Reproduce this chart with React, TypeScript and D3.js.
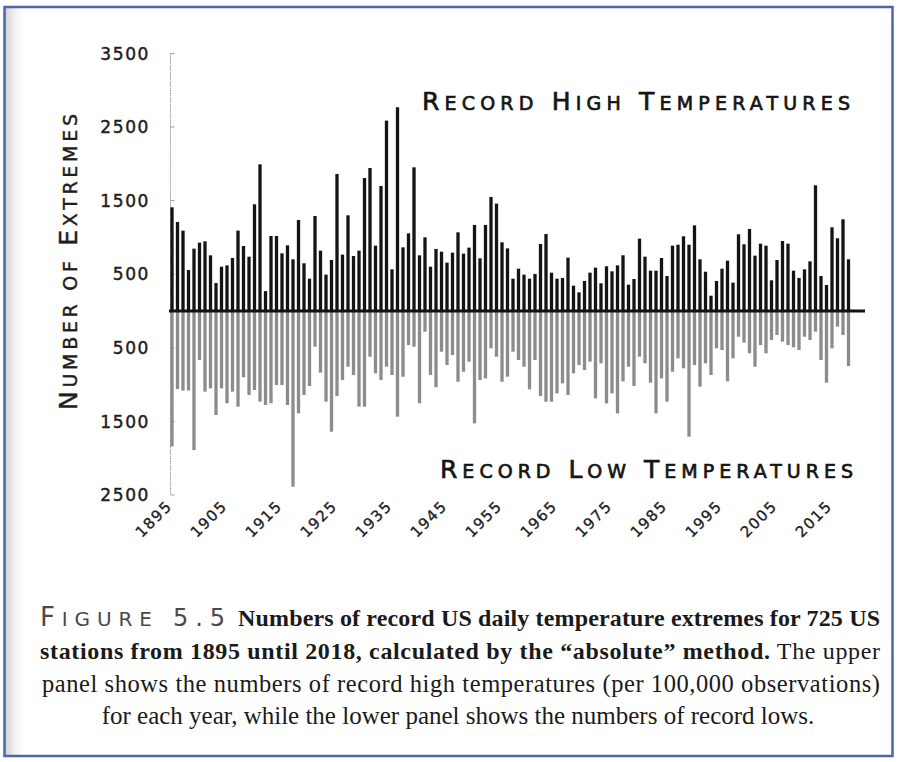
import React from "react";
import * as d3 from "d3";

const years: number[] = d3.range(1895, 2019);

const recordHighs: number[] = [
  1409, 1210, 1092, 557, 847, 929, 947, 756, 380, 602,
  620, 720, 1092, 883, 738, 1450, 1993, 270, 1019, 1019,
  784, 892, 702, 1237, 648, 439, 1291, 820, 494, 693,
  1862, 766, 1300, 747, 820, 1807, 1943, 888, 1699, 2587,
  566, 2768, 865, 1055, 1952, 756, 1001, 602, 843, 806,
  657, 793, 1069, 779, 861, 1169, 716, 1169, 1549, 1459,
  933, 851, 439, 575, 494, 439, 503, 911, 1046, 521,
  439, 449, 725, 344, 254, 408, 521, 589, 376, 607,
  539, 620, 757, 358, 435, 983, 738, 548, 548, 720,
  476, 888, 901, 1015, 901, 1164, 702, 534, 208, 408,
  575, 684, 385, 1042, 906, 1114, 752, 915, 888, 417,
  693, 951, 915, 548, 449, 566, 675, 1708, 476, 353,
  1137, 988, 1246, 702,
];

const recordLows: number[] = [
  1840, 1060, 1080, 1080, 1890, 665, 1096, 1051, 1413, 1051,
  1254, 1096, 1300, 900, 1141, 1073, 1232, 1277, 1254, 1005,
  1006, 1277, 2387, 1390, 1141, 1019, 485, 838, 1232, 1640,
  1155, 938, 757, 870, 1300, 1300, 621, 847, 938, 757,
  870, 1436, 893, 462, 485, 1254, 281, 870, 1037, 553,
  734, 598, 961, 825, 689, 1527, 938, 915, 507, 621,
  961, 892, 553, 666, 757, 1064, 666, 1155, 1232, 1232,
  1119, 983, 1141, 847, 734, 802, 689, 1187, 711, 1255,
  1119, 1391, 956, 757, 1019, 621, 711, 974, 1391, 915,
  1232, 825, 643, 779, 1708, 734, 1028, 711, 870, 507,
  530, 956, 643, 349, 430, 575, 757, 462, 575, 394,
  326, 417, 462, 494, 530, 349, 394, 281, 666, 974,
  507, 213, 326, 747,
];

const yTickValues: number[] = [3500, 2500, 1500, 500, -500, -1500, -2500];
const xTickYears: number[] = [1895, 1905, 1915, 1925, 1935, 1945, 1955, 1965, 1975, 1985, 1995, 2005, 2015];

const highTitle = "Record High Temperatures";
const lowTitle = "Record Low Temperatures";
const yTitle = "Number of Extremes";

const figLabel = "Figure";
const figNumber = "5.5";
const captionBold1 = "Numbers of record US daily temperature extremes for 725 US";
const captionBold2 = "stations from 1895 until 2018, calculated by the \u201Cabsolute\u201D method.";
const captionReg2 = " The upper";
const captionLine3 = "panel shows the numbers of record high temperatures (per 100,000 observations)";
const captionLine4 = "for each year, while the lower panel shows the numbers of record lows.";

const W = 898;
const H = 762;
const CHART_FONT = "'DejaVu Sans', sans-serif";
const SERIF = "'Liberation Serif', 'DejaVu Serif', serif";

function smallCaps(text: string, big: number, small: number) {
  const parts: React.ReactNode[] = [];
  const words = text.split(" ");
  words.forEach((w, i) => {
    const prefix = i > 0 ? " " : "";
    const first = w.charAt(0);
    const isCap = first === first.toUpperCase();
    if (isCap) {
      parts.push(
        <tspan key={`b${i}`} fontSize={big}>{prefix + first}</tspan>
      );
      if (w.length > 1) {
        parts.push(
          <tspan key={`s${i}`} fontSize={small}>{w.slice(1).toUpperCase()}</tspan>
        );
      }
    } else {
      parts.push(
        <tspan key={`s${i}`} fontSize={small}>{prefix + w.toUpperCase()}</tspan>
      );
    }
  });
  return parts;
}

export default function App() {
  const x = d3
    .scaleBand<number>()
    .domain(years)
    .range([169.25, 851.25])
    .paddingInner(0.4)
    .paddingOuter(0.2);

  const y = d3.scaleLinear().domain([-2500, 3500]).range([495, 53.4]);
  const y0 = y(0);
  const bw = x.bandwidth();
  const axisX = 170.5;

  return (
    <svg
      width={W}
      height={H}
      viewBox={`0 0 ${W} ${H}`}
      style={{ position: "absolute", left: 0, top: 0, background: "#fff" }}
    >
      <defs>
        <linearGradient id="leftShade" x1="0" x2="1" y1="0" y2="0">
          <stop offset="0" stopColor="#cfcfcf" />
          <stop offset="1" stopColor="#ffffff" stopOpacity="0" />
        </linearGradient>
      </defs>
      <rect x={0} y={0} width={W} height={H} fill="#fff" />
      <rect x={5} y={8} width={22} height={H - 14} fill="url(#leftShade)" />

      {/* y axis */}
      <line x1={axisX} x2={axisX} y1={y(3500)} y2={y(-2500)} stroke="#9a9a9a" strokeWidth={1} strokeDasharray="1.5 0.8" />
      {yTickValues.map((v) => (
        <line key={`t${v}`} x1={axisX} x2={axisX + 4} y1={y(v)} y2={y(v)} stroke="#9a9a9a" strokeWidth={1} />
      ))}
      {yTickValues.map((v) => (
        <text
          key={`l${v}`}
          x={150}
          y={y(v)}
          dy="0.36em"
          textAnchor="end"
          fontFamily={CHART_FONT}
          fontSize={17}
          letterSpacing={1.6}
          fill="#1e1e1e"
          stroke="#1e1e1e"
          strokeWidth={0.45}
        >
          {Math.abs(v)}
        </text>
      ))}

      {/* y axis title */}
      <text
        transform={`translate(77, 261) rotate(-90)`}
        textAnchor="middle"
        fontFamily={CHART_FONT}
        fill="#1e1e1e"
        stroke="#1e1e1e"
        strokeWidth={0.4}
        letterSpacing={2}
        textLength={298}
        lengthAdjust="spacing"
      >
        {smallCaps(yTitle, 25, 19)}
      </text>

      {/* low bars */}
      {years.map((yr, i) => (
        <rect
          key={`lo${yr}`}
          x={x(yr)}
          y={y0}
          width={bw}
          height={y(-recordLows[i]) - y0}
          fill="#8c8c8c"
        />
      ))}
      {/* high bars */}
      {years.map((yr, i) => (
        <rect
          key={`hi${yr}`}
          x={x(yr)}
          y={y(recordHighs[i])}
          width={bw}
          height={y0 - y(recordHighs[i])}
          fill="#141414"
        />
      ))}
      {/* zero line */}
      <line x1={169} x2={865} y1={y0} y2={y0} stroke="#111" strokeWidth={3} />

      {/* x labels */}
      {xTickYears.map((yr) => {
        const cx = (x(yr) as number) + bw / 2;
        return (
          <text
            key={`x${yr}`}
            transform={`translate(${cx + 1}, ${507}) rotate(-45)`}
            textAnchor="end"
            fontFamily={CHART_FONT}
            fontSize={15}
            letterSpacing={1.5}
            fill="#1e1e1e"
            stroke="#1e1e1e"
            strokeWidth={0.35}
          >
            {yr}
          </text>
        );
      })}

      {/* panel titles */}
      <text
        x={422}
        y={110}
        fontFamily={CHART_FONT}
        fill="#151515"
        letterSpacing={2}
        textLength={430}
        lengthAdjust="spacing"
        stroke="#151515"
        strokeWidth={0.7}
      >
        {smallCaps(highTitle, 25, 19)}
      </text>
      <text
        x={440}
        y={478}
        fontFamily={CHART_FONT}
        fill="#151515"
        letterSpacing={2}
        textLength={415}
        lengthAdjust="spacing"
        stroke="#151515"
        strokeWidth={0.7}
      >
        {smallCaps(lowTitle, 25, 19)}
      </text>

      {/* caption */}
      <text x={40} y={626} fontFamily={CHART_FONT} fill="#4a4a4a" textLength={185} lengthAdjust="spacing">
        <tspan fontSize={26}>{figLabel.charAt(0).toUpperCase()}</tspan>
        <tspan fontSize={20}>{figLabel.slice(1).toUpperCase()}</tspan>
        <tspan fontSize={24}>{" " + figNumber}</tspan>
      </text>
      <text
        x={238}
        y={626}
        fontFamily={SERIF}
        fontWeight="bold"
        fontSize={24}
        fill="#1a1a1a"
        textLength={642}
        lengthAdjust="spacing"
      >
        {captionBold1}
      </text>
      <text x={40} y={659} fontFamily={SERIF} fontSize={24} fill="#1a1a1a" textLength={840} lengthAdjust="spacing">
        <tspan fontWeight="bold">{captionBold2}</tspan>
        <tspan>{captionReg2}</tspan>
      </text>
      <text x={42} y={692} fontFamily={SERIF} fontSize={24.5} fill="#1a1a1a" textLength={838} lengthAdjust="spacing">
        {captionLine3}
      </text>
      <text x={458} y={724} textAnchor="middle" fontFamily={SERIF} fontSize={25} fill="#1a1a1a">
        {captionLine4}
      </text>

      {/* blue frame */}
      <rect x={4.5} y={7} width={888} height={749} fill="none" stroke="#4a67a8" strokeWidth={2.5} />
    </svg>
  );
}
